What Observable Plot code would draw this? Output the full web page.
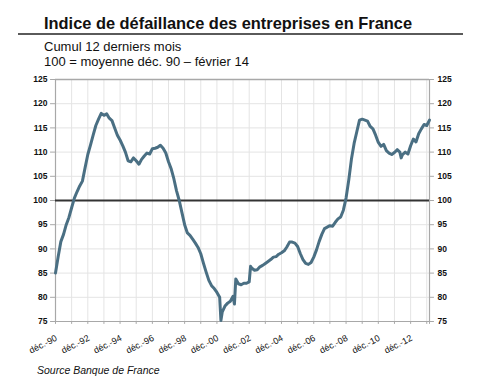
<!DOCTYPE html>
<html><head><meta charset="utf-8">
<script src="https://cdn.jsdelivr.net/npm/d3@7"></script>
<script src="https://cdn.jsdelivr.net/npm/@observablehq/plot@0.6"></script>
<style>
body{margin:0;background:#fff;}
#wrap{position:relative;width:482px;height:383px;overflow:hidden;font-family:"Liberation Sans",Arial,sans-serif;color:#111;}
.t{position:absolute;white-space:nowrap;}
#title{left:44px;top:15px;font-size:16.4px;line-height:16.4px;font-weight:bold;}
#rule{position:absolute;left:18px;top:33px;width:445px;height:2px;background:#5a5a5a;}
#sub1{left:44px;top:40px;font-size:13px;line-height:13px;}
#sub2{left:44px;top:55px;font-size:13px;line-height:13px;}
#chart{position:absolute;left:0;top:72px;}
#cap{left:37px;top:365px;font-size:10.5px;line-height:10.5px;font-style:italic;}
</style></head>
<body>
<div id="wrap">
<div class="t" id="title">Indice de défaillance des entreprises en France</div>
<div id="rule"></div>
<div class="t" id="sub1">Cumul 12 derniers mois</div>
<div class="t" id="sub2">100 = moyenne déc. 90 – février 14</div>
<div id="chart"></div>
<div class="t" id="cap">Source Banque de France</div>
</div>
<script>
const months = ["1990-12","1991-02","1991-04","1991-06","1991-08","1991-10","1991-12","1992-02","1992-04","1992-06","1992-08","1992-10","1992-12","1993-02","1993-04","1993-06","1993-08","1993-10","1993-12","1994-02","1994-04","1994-06","1994-08","1994-10","1994-12","1995-02","1995-04","1995-06","1995-08","1995-10","1995-12","1996-02","1996-04","1996-06","1996-08","1996-10","1996-12","1997-02","1997-04","1997-06","1997-08","1997-10","1997-12","1998-02","1998-04","1998-06","1998-08","1998-10","1998-12","1999-02","1999-04","1999-06","1999-08","1999-10","1999-12","2000-02","2000-04","2000-06","2000-08","2000-10","2000-12","2001-02","2001-03","2001-04","2001-06","2001-08","2001-10","2001-12","2002-01","2002-02","2002-04","2002-06","2002-08","2002-10","2002-12","2003-01","2003-02","2003-04","2003-06","2003-08","2003-10","2003-12","2004-02","2004-04","2004-06","2004-08","2004-10","2004-12","2005-02","2005-04","2005-06","2005-08","2005-10","2005-12","2006-02","2006-04","2006-06","2006-08","2006-10","2006-12","2007-02","2007-04","2007-06","2007-08","2007-10","2007-12","2008-02","2008-04","2008-06","2008-08","2008-10","2008-12","2009-02","2009-04","2009-06","2009-08","2009-10","2009-12","2010-02","2010-04","2010-06","2010-08","2010-10","2010-12","2011-02","2011-04","2011-06","2011-08","2011-10","2011-12","2012-02","2012-04","2012-05","2012-06","2012-08","2012-10","2012-12","2013-02","2013-04","2013-06","2013-08","2013-10","2013-12","2014-02"];
const indexValues = [85.0,88.5,91.5,93.0,95.0,96.5,98.5,100.5,101.8,103.0,104.0,106.8,109.5,111.5,113.5,115.5,116.8,118.0,117.6,117.9,117.0,116.5,115.0,113.5,112.5,111.3,110.0,108.2,108.0,108.8,108.2,107.5,108.5,109.2,109.8,109.6,110.7,110.8,111.0,111.4,110.8,109.8,108.0,106.5,104.5,102.0,100.0,97.5,95.0,93.3,92.8,92.0,91.2,90.3,89.0,87.0,85.2,83.5,82.4,81.8,81.0,80.0,75.2,77.0,78.2,78.8,79.2,80.2,78.6,83.8,82.8,82.6,82.9,82.9,83.2,86.4,86.0,85.6,85.7,86.3,86.6,87.0,87.4,87.8,88.3,88.4,88.9,89.2,89.6,90.4,91.4,91.4,91.2,90.5,89.0,87.8,87.0,86.8,87.2,88.3,89.8,91.5,93.0,94.2,94.5,94.8,94.7,95.5,96.2,96.6,98.0,100.5,104.3,108.5,111.8,114.2,116.6,116.8,116.6,116.4,115.3,114.8,113.5,112.0,111.2,111.6,110.3,109.8,109.5,109.9,110.5,110.0,108.8,109.5,110.0,109.6,111.3,112.7,112.1,113.8,114.8,115.7,115.5,116.6];
const xTickLabels = ["déc.-90","déc.-92","déc.-94","déc.-96","déc.-98","déc.-00","déc.-02","déc.-04","déc.-06","déc.-08","déc.-10","déc.-12"];
const yTicks = [75,80,85,90,95,100,105,110,115,120,125];
const baseline = 100;

const parse = d3.utcParse("%Y-%m");
const data = months.map((m,i)=>({date: parse(m), value: indexValues[i]}));
const xStart = parse("1990-12"), xEnd = parse("2014-02");
const yearDates = d3.range(1990, 2014).map(y => new Date(Date.UTC(y,11,1)));
const gridDates = yearDates.slice(1);
const labelData = xTickLabels.map(l => {
  const yy = +l.slice(-2);
  return {date: new Date(Date.UTC((yy < 50 ? 2000 : 1900) + yy, 11, 1)), label: l};
});

const chart = Plot.plot({
  width: 482, height: 290,
  marginLeft: 55, marginRight: 53, marginTop: 7, marginBottom: 41,
  style: {fontFamily: "'Liberation Sans', Arial, sans-serif", background: "#fff", color: "#111"},
  x: {type: "utc", domain: [xStart, xEnd], axis: null},
  y: {type: "linear", domain: [75, 125], axis: null},
  marks: [
    Plot.ruleX(gridDates, {x: d => d, y1: 75, y2: 125, stroke: "#e4e4e4", strokeWidth: 1}),
    Plot.ruleY(yTicks.filter(v => v > 75 && v < 125), {stroke: "#e4e4e4", strokeWidth: 1}),
    Plot.ruleY([125], {stroke: "#a8a8a8", strokeWidth: 1.5}),
    Plot.ruleY([75], {stroke: "#a8a8a8", strokeWidth: 1}),
    Plot.ruleX([xStart, xEnd], {x: d => d, y1: 75, y2: 125, stroke: "#a8a8a8", strokeWidth: 1.2}),
    Plot.ruleX(yearDates.concat([xEnd]), {x: d => d, y1: 75, y2: 74.4, stroke: "#a8a8a8", strokeWidth: 1}),
    Plot.ruleY(yTicks, {y: d => d, x1: xStart, x2: d3.utcDay.offset(xStart, -112), stroke: "#a8a8a8"}),
    Plot.ruleY(yTicks, {y: d => d, x1: xEnd, x2: d3.utcDay.offset(xEnd, 112), stroke: "#a8a8a8"}),
    Plot.text(yTicks, {y: d => d, x: xStart, text: d => String(d), dx: -8, textAnchor: "end", fontSize: 8.5, fontWeight: "bold", fill: "#111"}),
    Plot.text(yTicks, {y: d => d, x: xEnd, text: d => String(d), dx: 8, textAnchor: "start", fontSize: 8.5, fontWeight: "bold", fill: "#111"}),
    Plot.ruleY([baseline], {stroke: "#333", strokeWidth: 2}),
    Plot.line(data, {x: "date", y: "value", stroke: "#4a6f83", strokeWidth: 3, strokeLinejoin: "round", curve: "linear"}),
    Plot.text(labelData, {x: "date", y: 75, text: "label", rotate: -27, textAnchor: "end", dy: 16, dx: 1, fontSize: 9, fill: "#111"})
  ]
});
document.getElementById("chart").appendChild(chart);
</script>
</body></html>
